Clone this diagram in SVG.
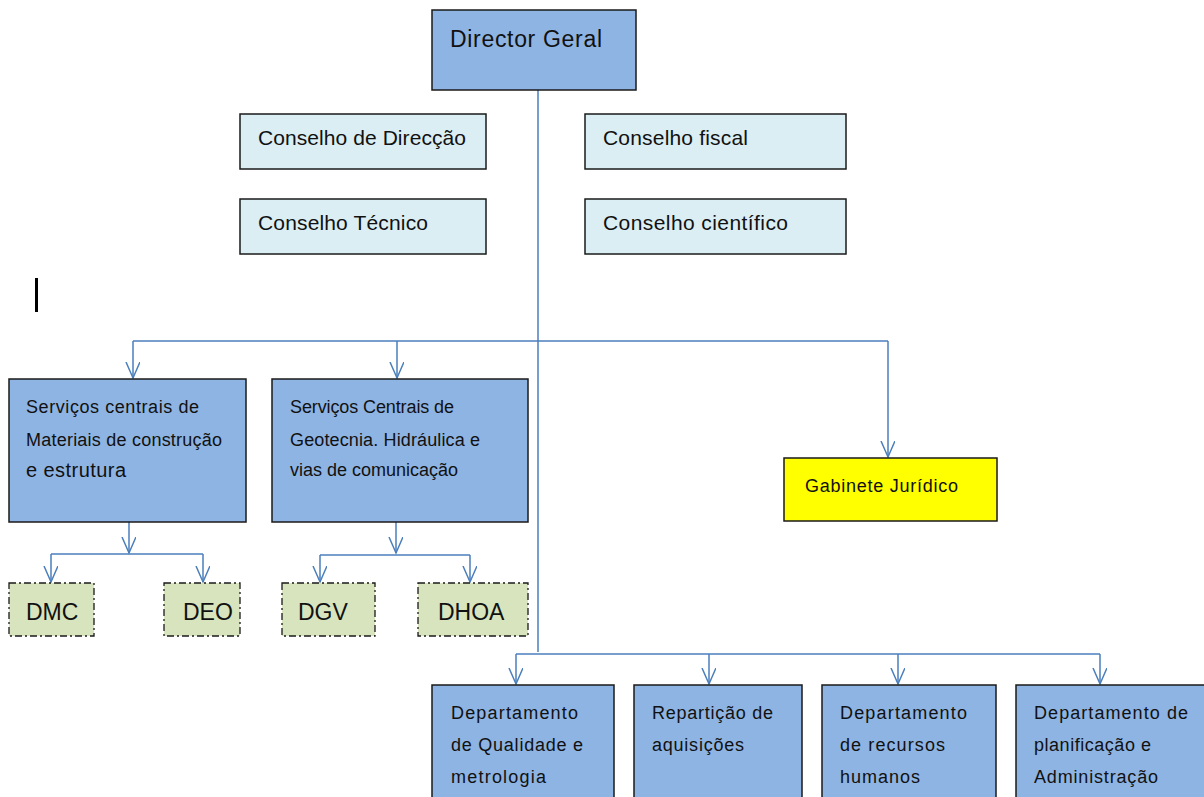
<svg xmlns="http://www.w3.org/2000/svg" width="1204" height="797" viewBox="0 0 1204 797">
<defs>
<style>
.t{font-family:"Liberation Sans",Arial,sans-serif;fill:#111}
.blue{fill:#8eb4e3;stroke:#1a1a1a;stroke-width:1.5}
.light{fill:#dbeef4;stroke:#1a1a1a;stroke-width:1.5}
.green{fill:#d7e4bd;stroke:#1a1a1a;stroke-width:1.3;stroke-dasharray:7 3 2 3}
.yel{fill:#ffff00;stroke:#1a1a1a;stroke-width:1.5}
.c{fill:none;stroke:#4a7ebb;stroke-width:1.5}
</style>
<marker id="arr" markerWidth="18" markerHeight="18" refX="16" refY="7" orient="auto" markerUnits="userSpaceOnUse">
<path d="M0,0 L16,7 L0,14" fill="none" stroke="#4a7ebb" stroke-width="1.5"/>
</marker>
</defs>
<rect width="1204" height="797" fill="#fff"/>
<g id="connectors">
<path class="c" d="M538,90 V652"/>
<path class="c" d="M133,341 H888"/>
<path class="c" d="M133,341 V378" marker-end="url(#arr)"/>
<path class="c" d="M397,341 V378" marker-end="url(#arr)"/>
<path class="c" d="M888,341 V457" marker-end="url(#arr)"/>
<path class="c" d="M129,522 V553" marker-end="url(#arr)"/>
<path class="c" d="M51,554 H203"/>
<path class="c" d="M51,554 V582" marker-end="url(#arr)"/>
<path class="c" d="M203,554 V582" marker-end="url(#arr)"/>
<path class="c" d="M396,522 V553" marker-end="url(#arr)"/>
<path class="c" d="M320,555 H470"/>
<path class="c" d="M320,555 V582" marker-end="url(#arr)"/>
<path class="c" d="M470,555 V582" marker-end="url(#arr)"/>
<path class="c" d="M516,654 H1100"/>
<path class="c" d="M516,654 V684" marker-end="url(#arr)"/>
<path class="c" d="M709,654 V684" marker-end="url(#arr)"/>
<path class="c" d="M898,654 V684" marker-end="url(#arr)"/>
<path class="c" d="M1100,654 V684" marker-end="url(#arr)"/>
</g>
<g id="director"><rect class="blue" x="432" y="10" width="204" height="80"/><text class="t" x="450" y="47" font-size="23" textLength="152">Director Geral</text></g>
<g id="cdir"><rect class="light" x="240" y="114" width="246" height="55"/><text class="t" x="258" y="145" font-size="21" textLength="208">Conselho de Direcção</text></g>
<g id="ctec"><rect class="light" x="240" y="199" width="246" height="55"/><text class="t" x="258" y="230" font-size="21" textLength="170">Conselho Técnico</text></g>
<g id="cfis"><rect class="light" x="585" y="114" width="261" height="55"/><text class="t" x="603" y="145" font-size="21" textLength="145">Conselho fiscal</text></g>
<g id="ccie"><rect class="light" x="585" y="199" width="261" height="55"/><text class="t" x="603" y="230" font-size="21" textLength="185">Conselho científico</text></g>
<rect x="35" y="278" width="3" height="34" fill="#000"/>
<g id="sc1"><rect class="blue" x="9" y="379" width="237" height="143"/>
<text class="t" font-size="18"><tspan x="26" y="413" textLength="173">Serviços centrais de</tspan><tspan x="26" y="446" textLength="196">Materiais de construção</tspan><tspan x="26" y="477" font-size="20" textLength="100">e estrutura</tspan></text></g>
<g id="sc2"><rect class="blue" x="272" y="379" width="256" height="143"/>
<text class="t" font-size="18"><tspan x="290" y="413" textLength="164">Serviços Centrais de</tspan><tspan x="290" y="446" textLength="190">Geotecnia. Hidráulica e</tspan><tspan x="290" y="476" textLength="168">vias de comunicação</tspan></text></g>
<g id="gab"><rect class="yel" x="784" y="458" width="213" height="63"/><text class="t" x="805" y="492" font-size="18" textLength="153">Gabinete Jurídico</text></g>
<g id="dmc"><rect class="green" x="9" y="583" width="85" height="53"/><text class="t" x="26" y="620" font-size="23">DMC</text></g>
<g id="deo"><rect class="green" x="164" y="583" width="76" height="53"/><text class="t" x="183" y="620" font-size="23">DEO</text></g>
<g id="dgv"><rect class="green" x="282" y="583" width="93" height="53"/><text class="t" x="298" y="620" font-size="23">DGV</text></g>
<g id="dhoa"><rect class="green" x="418" y="583" width="110" height="53"/><text class="t" x="438" y="620" font-size="23">DHOA</text></g>
<g id="dqm"><rect class="blue" x="432" y="685" width="182" height="120"/>
<text class="t" font-size="18"><tspan x="451" y="719" textLength="127">Departamento</tspan><tspan x="451" y="751" textLength="132">de Qualidade e</tspan><tspan x="451" y="783" textLength="95">metrologia</tspan></text></g>
<g id="raq"><rect class="blue" x="634" y="685" width="168" height="120"/>
<text class="t" font-size="18"><tspan x="652" y="719" textLength="121">Repartição de</tspan><tspan x="652" y="751" textLength="92">aquisições</tspan></text></g>
<g id="drh"><rect class="blue" x="822" y="685" width="174" height="120"/>
<text class="t" font-size="18"><tspan x="840" y="719" textLength="127">Departamento</tspan><tspan x="840" y="751" textLength="105">de recursos</tspan><tspan x="840" y="783" textLength="80">humanos</tspan></text></g>
<g id="dpa"><rect class="blue" x="1016" y="685" width="200" height="120"/>
<text class="t" font-size="18"><tspan x="1034" y="719" textLength="154">Departamento de</tspan><tspan x="1034" y="751" textLength="117">planificação e</tspan><tspan x="1034" y="783" textLength="124">Administração</tspan></text></g>
</svg>
